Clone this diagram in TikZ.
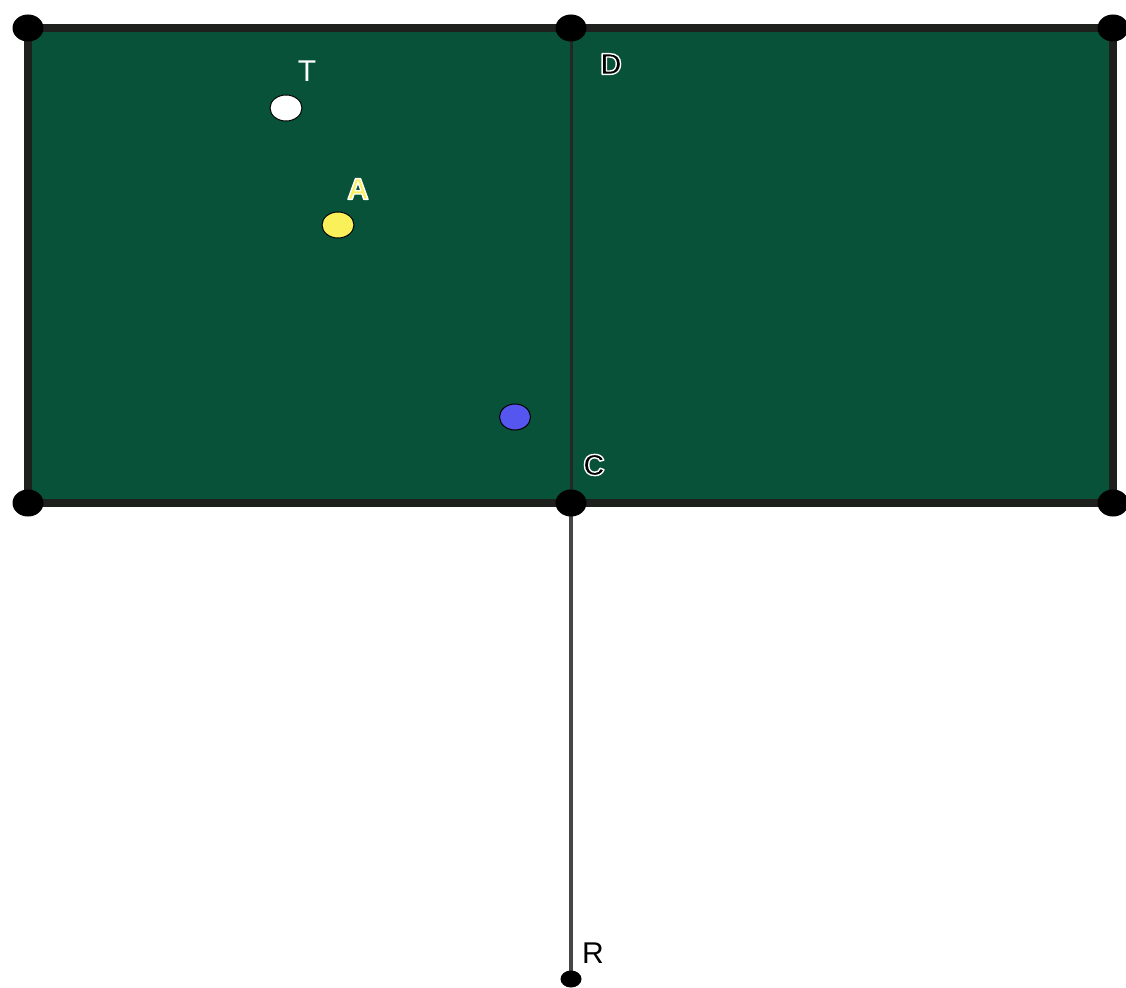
\documentclass[tikz,border=0pt]{standalone}
\usepackage{fontspec}
\setmainfont{Liberation Sans}
\definecolor{felt}{RGB}{8,82,58}
\definecolor{rail}{RGB}{30,32,30}
\definecolor{ballyellow}{RGB}{250,240,90}
\definecolor{ballblue}{RGB}{85,85,240}
\definecolor{cue}{RGB}{70,70,70}
\usetikzlibrary{shapes.geometric}
\tikzset{
  corner/.style={ellipse, fill=black, minimum width=31pt, minimum height=27pt, inner sep=0pt},
  ball/.style={ellipse, draw=black, line width=1pt, minimum width=32pt, minimum height=26pt, inner sep=0pt},
  lbl/.style={font=\fontsize{30}{30}\selectfont, inner sep=0pt},
  halolbl/.style={font=\fontsize{30}{30}\selectfont\bfseries, inner sep=0pt}
}
% text filled in the current colour and stroked with a halo colour (given as r g b)
\newcommand\haloText[2]{\special{pdf:literal 2 Tr 1.4 w 1 j #1 RG}#2\special{pdf:literal 0 Tr}}
\begin{document}
\begin{tikzpicture}[x=1pt,y=-1pt]
\useasboundingbox (0,0) rectangle (1126,987);
% coordinates
\coordinate (TL) at (28,28);
\coordinate (TM) at (571,28);
\coordinate (TR) at (1113,28);
\coordinate (BL) at (28,503);
\coordinate (BM) at (571,503);
\coordinate (BR) at (1113,503);
\coordinate (Rp) at (571,979);
% table
\fill[felt] (TL) rectangle (BR);
\draw[rail, line width=8pt] (TL) rectangle (BR);
\draw[black!85, line width=3pt] (TM) -- (BM);
\draw[cue, line width=4pt] (BM) -- (Rp);
% pockets
\node[corner] (cTL) at (TL) {};
\node[corner] (cTM) at (TM) {};
\node[corner] (cTR) at (TR) {};
\node[corner] (cBL) at (BL) {};
\node[corner] (cBM) at (BM) {};
\node[corner] (cBR) at (BR) {};
\node[ellipse, fill=black, minimum width=21pt, minimum height=17pt, inner sep=0pt] (cR) at (Rp) {};
% balls
\node[ball, fill=white] (ballT) at (286,108) {};
\node[ball, fill=ballyellow] (ballA) at (338,225) {};
\node[ball, fill=ballblue, minimum width=31pt] (ballB) at (515,417) {};
% labels
\node[lbl, text=white] (labT) at (307,71) {T};
\node[halolbl, text=ballyellow] (labA) at (358,189) {\haloText{1 1 1}{A}};
\node[halolbl, text=black] (labD) at (611,64) {\haloText{1 1 1}{D}};
\node[halolbl, text=black] (labC) at (594,465) {\haloText{1 1 1}{C}};
\node[lbl, text=black] (labR) at (593,953) {R};
\end{tikzpicture}
\end{document}
